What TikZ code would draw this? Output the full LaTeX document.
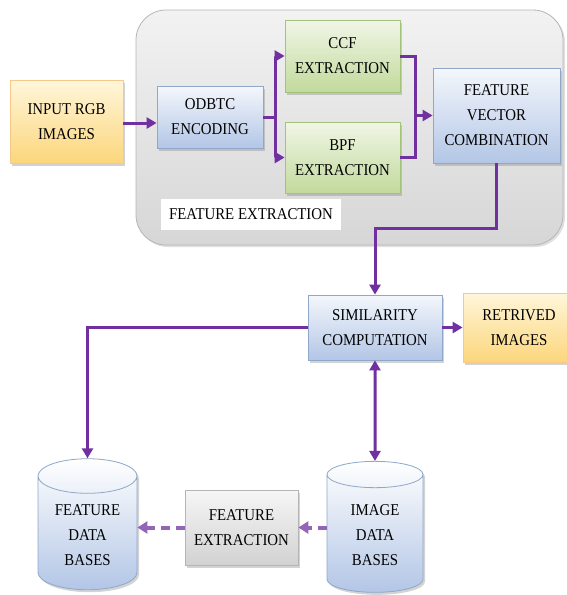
\documentclass[tikz,border=0pt]{standalone}
\usepackage{fontspec}
\setmainfont{Liberation Serif}[FakeStretch=0.9]
\usepackage{tikz}
\usetikzlibrary{
	positioning,
	calc,
	arrows.meta,
	shadows,
	shapes.geometric
}

\definecolor{flowpurple}{HTML}{7030A0}
\definecolor{yellowtop}{HTML}{FFF6DA}
\definecolor{yellowbot}{HTML}{FCD67C}
\definecolor{yellowline}{HTML}{F6C98A}
\definecolor{bluetop}{HTML}{F4F7FC}
\definecolor{bluebot}{HTML}{B3C6E6}
\definecolor{blueline}{HTML}{8FA7C9}
\definecolor{greentop}{HTML}{F0F6E6}
\definecolor{greenbot}{HTML}{C2DA9C}
\definecolor{greenline}{HTML}{A3C27A}
\definecolor{graytop}{HTML}{F6F6F6}
\definecolor{graybot}{HTML}{D2D2D2}
\definecolor{grayline}{HTML}{B5B5B5}

\begin{document}
\begin{tikzpicture}[
	x=1pt,y=-1pt,
	every node/.style={font=\fontsize{16.5}{25}\selectfont, align=center, text=black},
	c_box/.style={
		draw,
		line width=0.8pt,
		inner sep=2pt,
		drop shadow={opacity=0.35, shadow xshift=2pt, shadow yshift=-2.5pt}
	},
	c_yellow/.style={c_box, draw=yellowline, top color=yellowtop, bottom color=yellowbot},
	c_blue/.style={c_box, draw=blueline, top color=bluetop, bottom color=bluebot},
	c_green/.style={c_box, draw=greenline, top color=greentop, bottom color=greenbot},
	c_gray/.style={c_box, draw=grayline, top color=graytop, bottom color=graybot},
	c_drum/.style={
		c_blue,
		cylinder,
		shape border rotate=90,
		aspect=0.5,
		top color=white
	},
	c_flow/.style={
		draw=flowpurple,
		line width=3pt,
		-{Triangle[length=10pt,width=11pt]}
	},
	c_dash/.style={
		draw=flowpurple!75,
		line width=4pt,
		dash pattern=on 9pt off 6pt,
		-{Triangle[length=10pt,width=12pt]}
	}
	]

	\useasboundingbox (0,0) rectangle (567,595);

	% =========================================================================
	% FEATURE EXTRACTION GROUP
	% =========================================================================

	\draw[grayline, line width=0.8pt, rounded corners=30pt,
	top color=gray!10, bottom color=gray!32,
	drop shadow={opacity=0.25, shadow xshift=2pt, shadow yshift=-2pt}]
	(136,10) rectangle (563,245);

	\node[fill=white, minimum width=180, minimum height=31, inner sep=0pt]
	(grouplabel) at (251,214) {FEATURE EXTRACTION};

	% =========================================================================
	% BOXES
	% =========================================================================

	\node[c_yellow, minimum width=113, minimum height=83]
	(inrgb) at (66.5,121.5) {INPUT RGB\\IMAGES};

	\node[c_blue, minimum width=106, minimum height=62]
	(odbtc) at (210,117) {ODBTC\\ENCODING};

	\node[c_green, minimum width=115, minimum height=72]
	(ccf) at (342.5,56) {CCF\\EXTRACTION};

	\node[c_green, minimum width=115, minimum height=71]
	(bpf) at (342.5,157.5) {BPF\\EXTRACTION};

	\node[c_blue, minimum width=127, minimum height=95]
	(fvc) at (496.5,115.5) {FEATURE\\VECTOR\\COMBINATION};

	\node[c_blue, minimum width=134, minimum height=65]
	(sim) at (375,327.5) {SIMILARITY\\COMPUTATION};

	\node[c_yellow, minimum width=112, minimum height=69]
	(ret) at (519,327.5) {RETRIVED\\IMAGES};

	% Data bases
	\node[c_drum, minimum height=131, minimum width=99]
	(fdb) at (87.5,535.5) {FEATURE\\DATA\\BASES};

	\node[c_drum, minimum height=131, minimum width=96]
	(idb) at (375,535.5) {IMAGE\\DATA\\BASES};

	\node[c_gray, minimum width=113, minimum height=75]
	(fe) at (241.5,527.5) {FEATURE\\EXTRACTION};

	% =========================================================================
	% CONNECTORS
	% =========================================================================

	\draw[c_flow] (inrgb.east |- 0,123) -- (odbtc.west |- 0,123);

	% Split to CCF and BPF
	\coordinate (split) at ($(odbtc.east)+(12,0)$);
	\draw[c_flow] (odbtc.east) -- (split) |- (ccf.west);
	\draw[c_flow] (split) |- (bpf.west);

	% Merge into feature vector
	\coordinate (merge) at (415,115.5);
	\draw[flowpurple, line width=3pt] (ccf.east) -| (merge);
	\draw[flowpurple, line width=3pt] (bpf.east) -| (merge);
	\draw[c_flow] (merge) -- (fvc.west);

	% Down to similarity
	\draw[c_flow] (fvc.south) -- ++(0,65) -| (sim.north);
	\draw[c_flow] (sim.east) -- (ret.west);
	\draw[c_flow] (sim.west) -| (fdb.north);
	\draw[c_flow, {Triangle[length=10pt,width=11pt]}-{Triangle[length=10pt,width=11pt]}]
	(sim.south) -- (idb.north);

	% Offline path
	\draw[c_dash] (fe.east -| idb.west) -- (fe.east);
	\draw[c_dash] (fe.west) -- (fe.west -| fdb.east);

\end{tikzpicture}
\end{document}
